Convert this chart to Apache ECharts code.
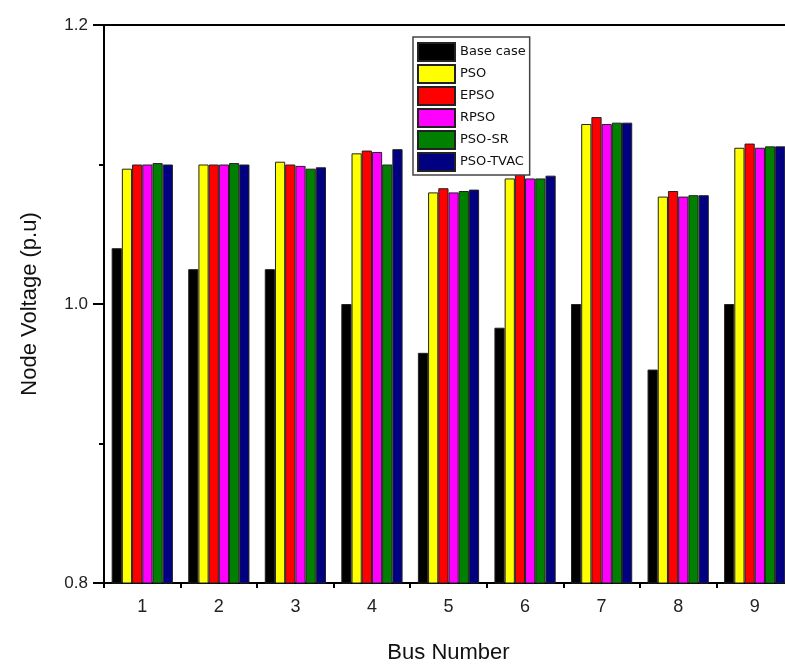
<!DOCTYPE html>
<html>
<head>
<meta charset="utf-8">
<script src="https://cdn.jsdelivr.net/npm/echarts@6/dist/echarts.min.js"></script>
<style>
html,body{margin:0;padding:0;background:#fff;}
#chart{width:785px;height:666px;}
</style>
</head>
<body>
<div id="chart"></div>
<script>
const categories = ['1','2','3','4','5','6','7','8','9'];
const seriesNames = ['Base case','PSO','EPSO','RPSO','PSO-SR','PSO-TVAC'];
const baseCase = [1.040, 1.025, 1.025, 1.000, 0.965, 0.983, 1.000, 0.953, 1.000];
const pso      = [1.097, 1.100, 1.102, 1.108, 1.080, 1.090, 1.129, 1.077, 1.112];
const epso     = [1.100, 1.100, 1.100, 1.110, 1.083, 1.093, 1.134, 1.081, 1.115];
const rpso     = [1.100, 1.100, 1.099, 1.109, 1.080, 1.090, 1.129, 1.077, 1.112];
const psoSr    = [1.101, 1.101, 1.097, 1.100, 1.081, 1.090, 1.130, 1.078, 1.113];
const psoTvac  = [1.100, 1.100, 1.098, 1.111, 1.082, 1.092, 1.130, 1.078, 1.113];
const yTicks = [0.8, 1.0, 1.2];

const colors = ['#000000','#FFFF00','#FF0000','#FF00FF','#008000','#000080'];
const allData = [baseCase, pso, epso, rpso, psoSr, psoTvac];

const chart = echarts.init(document.getElementById('chart'));
const fontFam = '"Liberation Sans", Arial, sans-serif';
chart.setOption({
  animation: false,
  backgroundColor: '#fff',
  grid: {
    left: 104, top: 25, right: -8, bottom: 83,
    containLabel: false,
    outerBoundsMode: 'none',
    show: true, borderColor: '#000', borderWidth: 2, backgroundColor: 'transparent'
  },
  legend: {
    data: seriesNames,
    orient: 'vertical',
    left: 413, top: 37,
    icon: 'rect',
    itemWidth: 37, itemHeight: 18, itemGap: 2,
    padding: [5, 4, 3, 4],
    borderColor: '#444', borderWidth: 1.5,
    backgroundColor: '#fff',
    textStyle: { fontFamily: '"DejaVu Sans", sans-serif', fontSize: 13, color: '#111', width: 80 }
  },
  xAxis: [{
    type: 'category',
    data: categories,
    position: 'bottom',
    name: 'Bus Number',
    nameLocation: 'middle',
    nameGap: 59,
    nameTextStyle: { fontFamily: fontFam, fontSize: 22, color: '#111' },
    axisLine: { lineStyle: { color: '#000', width: 2 } },
    axisTick: { alignWithLabel: true, length: 10, lineStyle: { color: '#000', width: 2 } },
    axisLabel: { fontFamily: fontFam, fontSize: 18, color: '#222', margin: 15 },
    splitLine: { show: false }
  }, {
    type: 'category',
    data: categories,
    position: 'bottom',
    axisLine: { show: false },
    axisTick: { show: true, length: 5, lineStyle: { color: '#000', width: 2 } },
    axisLabel: { show: false },
    splitLine: { show: false }
  }],
  yAxis: {
    type: 'value',
    min: 0.8, max: 1.2, interval: 0.2,
    name: 'Node Voltage (p.u)',
    nameLocation: 'middle',
    nameGap: 63,
    nameTextStyle: { fontFamily: fontFam, fontSize: 22, color: '#111' },
    axisLine: { show: true, lineStyle: { color: '#000', width: 2 } },
    axisTick: { show: true, length: 11, lineStyle: { color: '#000', width: 2 } },
    minorTick: { show: true, splitNumber: 2, length: 5, lineStyle: { color: '#000', width: 2 } },
    axisLabel: { fontFamily: fontFam, fontSize: 17, color: '#222', margin: 16,
      formatter: v => yTicks.some(t => Math.abs(t - v) < 1e-9) ? v.toFixed(1) : '' },
    splitLine: { show: false }
  },
  series: seriesNames.map((n, i) => ({
    name: n,
    type: 'bar',
    xAxisIndex: 0,
    data: allData[i],
    barGap: '0%',
    barCategoryGap: '20%',
    itemStyle: { color: colors[i], borderColor: '#222', borderWidth: 1 }
  }))
});
</script>
</body>
</html>
